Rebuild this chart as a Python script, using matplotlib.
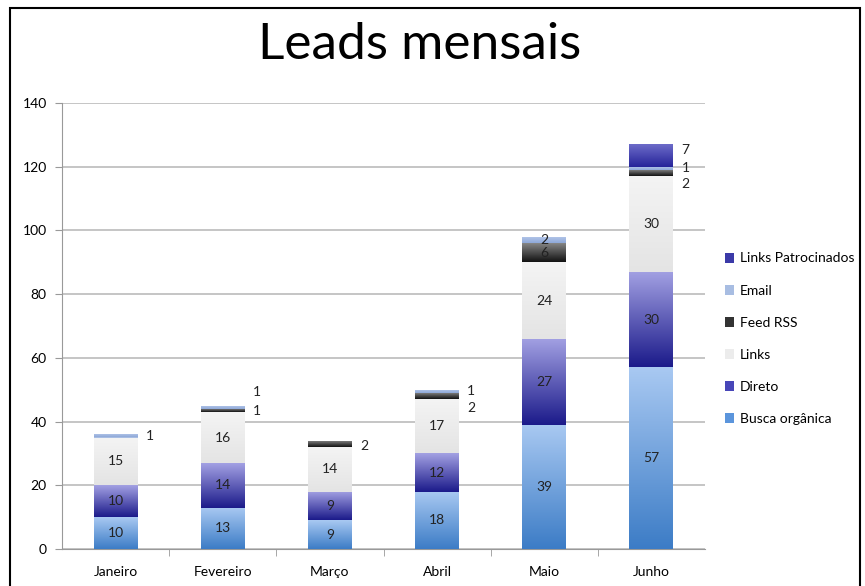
import matplotlib
matplotlib.use('Agg')
import matplotlib.pyplot as plt
import numpy as np
from matplotlib.colors import LinearSegmentedColormap
from matplotlib.patches import Rectangle

plt.rcParams['font.family'] = ['Lato', 'DejaVu Sans']

meses = ['Janeiro', 'Fevereiro', 'Março', 'Abril', 'Maio', 'Junho']

busca = [10, 13, 9, 18, 39, 57]
direto = [10, 14, 9, 12, 27, 30]
links = [15, 16, 14, 17, 24, 30]
feed_rss = [0, 1, 2, 2, 6, 2]
email = [1, 1, 0, 1, 2, 1]
patrocinados = [0, 0, 0, 0, 0, 7]

# name, values, gradient top, gradient bottom, legend colour
series = [
    ('Busca orgânica', busca, '#a9c9f2', '#3c7cc6', '#5b95dc'),
    ('Direto', direto, '#a3a1e3', '#1b1a8a', '#4846b8'),
    ('Links', links, '#f4f4f4', '#e4e4e4', '#ececec'),
    ('Feed RSS', feed_rss, '#8c8c8c', '#111111', '#333333'),
    ('Email', email, '#b6c8ea', '#8ea8d8', '#a8bde2'),
    ('Links Patrocinados', patrocinados, '#6d6cc8', '#25239a', '#3b3aa8'),
]

# labels drawn beside the bar (series index, month index) -> offset px down
side_labels = {
    (4, 0): 0, (3, 1): 1, (4, 1): -15, (3, 2): 2,
    (3, 3): 12, (4, 3): 0, (3, 5): 11, (4, 5): 0, (5, 5): -6,
}

fig = plt.figure(figsize=(8.65, 5.86), dpi=100)
ax = fig.add_axes([62/865, 1-549/586, (705-62)/865, (549-103)/586])

x = np.arange(len(meses))
width = 0.41
bottom = np.zeros(len(meses))
grad = np.linspace(0, 1, 256).reshape(-1, 1)

for si, (name, vals, top_c, bot_c, leg_c) in enumerate(series):
    vals = np.array(vals, dtype=float)
    bars = ax.bar(x, vals, width, bottom=bottom, color=leg_c, label=name, zorder=3, linewidth=0)
    cmap = LinearSegmentedColormap.from_list(name, [bot_c, top_c])
    for mi, b in enumerate(bars):
        h = b.get_height()
        if h <= 0:
            continue
        img = ax.imshow(grad, cmap=cmap, origin='lower', aspect='auto', zorder=3.5,
                        extent=[b.get_x(), b.get_x()+b.get_width(), b.get_y(), b.get_y()+h])
        img.set_clip_path(b)
        cy = b.get_y() + h/2
        if (si, mi) in side_labels:
            ax.annotate(f'{int(vals[mi])}', (b.get_x()+b.get_width(), cy),
                        xytext=(8, -side_labels[(si, mi)]), textcoords='offset pixels',
                        ha='left', va='center', fontsize=10, color='#222222')
        else:
            ax.text(b.get_x()+b.get_width()/2, cy, f'{int(vals[mi])}', ha='center', va='center',
                    fontsize=10, color='#222222', zorder=5)
    bottom += vals

ax.set_xlim(-0.5, 5.5)
ax.set_ylim(0, 140)
ax.set_yticks(np.arange(0, 141, 20))
ax.set_xticks(x)
ax.set_xticklabels(meses, fontsize=10)
ax.set_xticks(np.arange(0.5, 5.5, 1), minor=True)
ax.tick_params(axis='x', which='major', length=0, pad=12)
ax.tick_params(axis='x', which='minor', length=5, color='#999999')
ax.tick_params(axis='y', length=5, color='#999999', labelsize=10, pad=6)
ax.grid(axis='y', color='#c0c0c0', linewidth=1.3, zorder=0)
for s in ['top', 'right']:
    ax.spines[s].set_visible(False)
ax.spines['left'].set_color('#999999')
ax.spines['bottom'].set_color('#999999')

h, l = ax.get_legend_handles_labels()
fig.legend(h[::-1], l[::-1], loc='upper left', bbox_to_anchor=(712/865, 1-240/586),
           frameon=False, fontsize=10, handlelength=0.7, handleheight=0.7,
           handletextpad=0.4, labelspacing=1.45)

fig.text(420/865, 1-45/586, 'Leads mensais', ha='center', va='center', fontsize=37)
fig.add_artist(Rectangle((10/865, -0.01), 850/865, 1.01-8/586, transform=fig.transFigure,
                         fill=False, edgecolor='black', linewidth=1.5))

plt.savefig('out.png', dpi=100)
